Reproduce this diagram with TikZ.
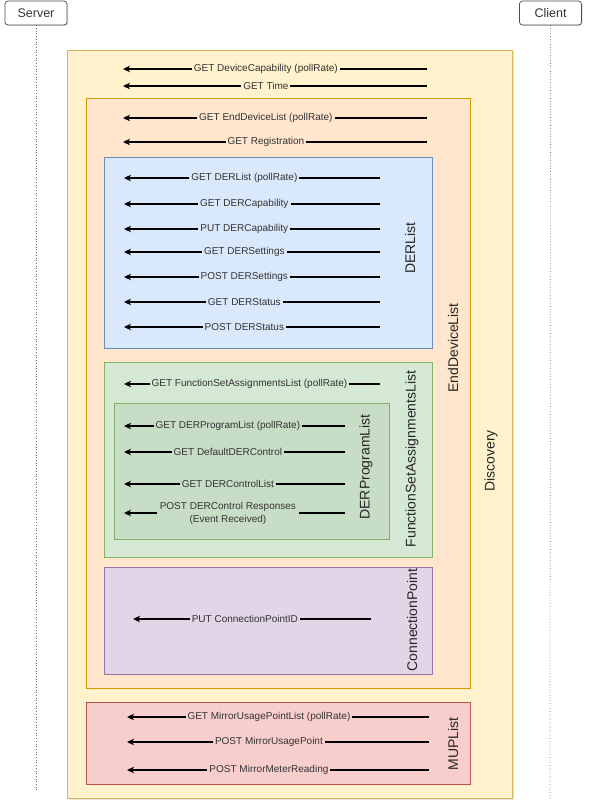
\documentclass[tikz,border=0pt]{standalone}
\usepackage{fontspec}
\setmainfont{Liberation Sans}
\usetikzlibrary{arrows.meta,shadows}

\definecolor{discfill}{HTML}{FFF2CC}
\definecolor{discline}{HTML}{D6B656}
\definecolor{edlfill}{HTML}{FFE6CC}
\definecolor{edlline}{HTML}{D79B00}
\definecolor{derfill}{HTML}{DAE8FC}
\definecolor{derline}{HTML}{6C8EBF}
\definecolor{fsafill}{HTML}{D5E8D4}
\definecolor{fsaline}{HTML}{82B366}
\definecolor{dpfill}{HTML}{C8DDC5}
\definecolor{cpfill}{HTML}{E1D5E7}
\definecolor{cpline}{HTML}{9673A6}
\definecolor{mupfill}{HTML}{F8CECC}
\definecolor{mupline}{HTML}{B85450}

\tikzset{
    box/.style={draw, line width=0.7pt, inner sep=0pt},
    actor/.style={draw=black!70, fill=white, rounded corners=3pt, line width=0.7pt,
        drop shadow={opacity=0.25, shadow xshift=1pt, shadow yshift=-1pt},
        font=\fontsize{12.5}{14}\selectfont, text=black!80,
        minimum width=62pt, minimum height=24pt, inner sep=0pt},
    lifeline/.style={draw=black!60, dotted, line width=0.7pt},
    msg/.style={line width=1.4pt, -{Stealth[length=7pt,width=6.5pt,inset=2pt]}},
    lbl/.style={font=\fontsize{10}{12}\selectfont, text=black!80, inner sep=2pt, pos=0.53},
    sidelbl/.style={rotate=90, font=\fontsize{14}{16}\selectfont, text=black!85, inner sep=0pt}
}

\begin{document}
\begin{tikzpicture}[x=1pt, y=-1pt]
    \useasboundingbox (0,0) rectangle (593,805);

    % Actors and lifelines
    \node[actor] (server) at (36,13) {Server};
    \node[actor] (client) at (550.5,13) {Client};
    \coordinate (server-end) at (36,792);
    \coordinate (client-end) at (550,800);
    \draw[lifeline] (server.south) -- (server-end);
    \draw[lifeline] (client.south) -- (client-end);

    % Boxes
    \node[box, fill=discfill, draw=discline, minimum width=445pt, minimum height=748pt,
        drop shadow={opacity=0.2, shadow xshift=1.5pt, shadow yshift=-1.5pt}] (disc) at (289.5,424) {};
    \node[box, fill=edlfill, draw=edlline, minimum width=384pt, minimum height=590pt] (edl) at (278,393) {};
    \node[box, fill=derfill, draw=derline, minimum width=328pt, minimum height=191pt] (der) at (268,252.5) {};
    \node[box, fill=fsafill, draw=fsaline, minimum width=328pt, minimum height=195pt] (fsa) at (268,459.5) {};
    \node[box, fill=dpfill, draw=fsaline, minimum width=275pt, minimum height=136pt] (dp) at (251.5,471) {};
    \node[box, fill=cpfill, draw=cpline, minimum width=328pt, minimum height=107pt] (cp) at (268,620.5) {};
    \node[box, fill=mupfill, draw=mupline, minimum width=384pt, minimum height=82pt] (mup) at (278,743) {};

    % Box titles
    \node[sidelbl] (disc-title) at (491,461) {Discovery};
    \node[sidelbl] (edl-title) at (453,348) {EndDeviceList};
    \node[sidelbl] (der-title) at (410,248) {DERList};
    \node[sidelbl] (fsa-title) at (412,459) {FunctionSetAssignmentsList};
    \node[sidelbl] (dp-title) at (366,467) {DERProgramList};
    \node[sidelbl] (cp-title) at (412,620) {ConnectionPoint};
    \node[sidelbl] (mup-title) at (453,744) {MUPList};

    % Discovery messages
    \foreach \y/\t [count=\i] in {69/GET DeviceCapability (pollRate), 86/GET Time} {
        \coordinate (disc-c\i) at (427,\y);
        \coordinate (disc-s\i) at (123,\y);
        \draw[msg] (disc-c\i) -- node[lbl, fill=discfill] {\t} (disc-s\i);
    }

    % EndDeviceList messages
    \foreach \y/\t [count=\i] in {118/GET EndDeviceList (pollRate), 142/GET Registration} {
        \coordinate (edl-c\i) at (427,\y);
        \coordinate (edl-s\i) at (123,\y);
        \draw[msg] (edl-c\i) -- node[lbl, fill=edlfill] {\t} (edl-s\i);
    }

    % DERList messages
    \foreach \y/\t [count=\i] in {178/GET DERList (pollRate), 204/GET DERCapability,
            229/PUT DERCapability, 252/GET DERSettings, 277/POST DERSettings,
            302/GET DERStatus, 327/POST DERStatus} {
        \coordinate (der-c\i) at (380,\y);
        \coordinate (der-s\i) at (124,\y);
        \draw[msg] (der-c\i) -- node[lbl, fill=derfill] {\t} (der-s\i);
    }

    % FunctionSetAssignmentsList messages
    \coordinate (fsa-c1) at (380,384);
    \coordinate (fsa-s1) at (124,384);
    \draw[msg] (fsa-c1) -- node[lbl, fill=fsafill, pos=0.51] {GET FunctionSetAssignmentsList (pollRate)} (fsa-s1);

    % DERProgramList messages
    \foreach \y/\t [count=\i] in {426/GET DERProgramList (pollRate), 452/GET DefaultDERControl,
            484/GET DERControlList} {
        \coordinate (dp-c\i) at (345,\y);
        \coordinate (dp-s\i) at (124,\y);
        \draw[msg] (dp-c\i) -- node[lbl, fill=dpfill] {\t} (dp-s\i);
    }
    \coordinate (dp-c4) at (345,513);
    \coordinate (dp-s4) at (124,513);
    \draw[msg] (dp-c4) -- node[lbl, fill=dpfill, align=center, font=\fontsize{10}{13}\selectfont, inner sep=3pt]
        {POST DERControl Responses\\(Event Received)} (dp-s4);

    % ConnectionPoint messages
    \coordinate (cp-c1) at (371,619);
    \coordinate (cp-s1) at (133,619);
    \draw[msg] (cp-c1) -- node[lbl, fill=cpfill] {PUT ConnectionPointID} (cp-s1);

    % MUPList messages
    \foreach \y/\t [count=\i] in {717/GET MirrorUsagePointList (pollRate), 742/POST MirrorUsagePoint,
            770/POST MirrorMeterReading} {
        \coordinate (mup-c\i) at (429,\y);
        \coordinate (mup-s\i) at (127,\y);
        \draw[msg] (mup-c\i) -- node[lbl, fill=mupfill] {\t} (mup-s\i);
    }
\end{tikzpicture}
\end{document}
